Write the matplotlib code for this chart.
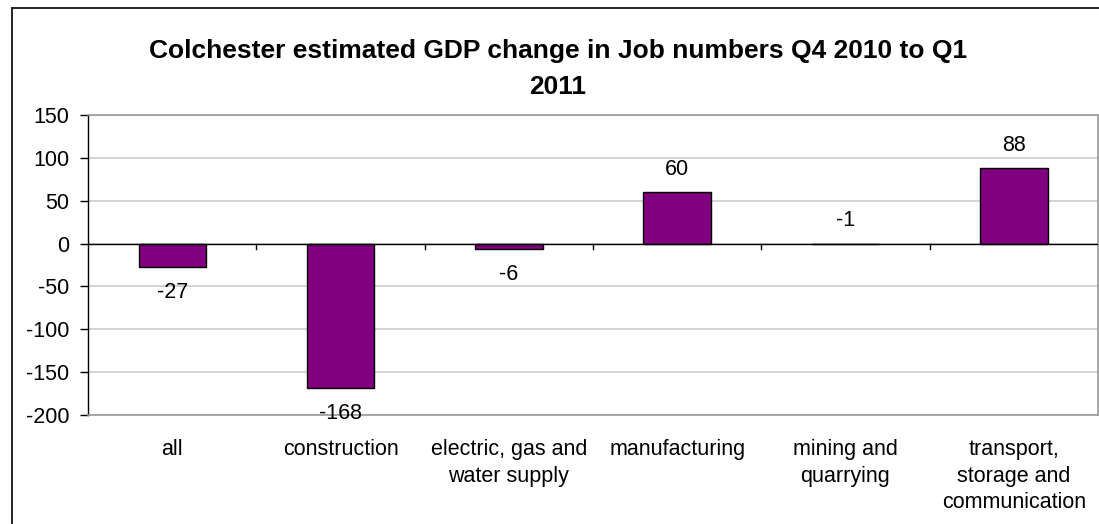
import matplotlib
matplotlib.use("Agg")
import matplotlib.pyplot as plt
from matplotlib.lines import Line2D

plt.rcParams['font.family'] = ['Liberation Sans', 'DejaVu Sans']

categories = ["all", "construction", "electric, gas and\nwater supply",
              "manufacturing", "mining and\nquarrying",
              "transport,\nstorage and\ncommunication"]
values = [-27, -168, -6, 60, -1, 88]
yticks = [-200, -150, -100, -50, 0, 50, 100, 150]
title = "Colchester estimated GDP change in Job numbers Q4 2010 to Q1\n2011"

W, H = 1099, 524
fig = plt.figure(figsize=(W / 100, H / 100), dpi=100)
fig.patch.set_facecolor("white")

# outer chart frame (runs off the right and bottom edges)
fig.add_artist(Line2D([12 / W, 12 / W], [-0.1, 1 - 8 / H], transform=fig.transFigure,
                      color="#222222", lw=1.4))
fig.add_artist(Line2D([12 / W, 1.1], [1 - 8 / H, 1 - 8 / H], transform=fig.transFigure,
                      color="#222222", lw=1.4))

left, right, top, bottom = 88 / W, 1098 / W, 1 - 115 / H, 1 - 415 / H
ax = fig.add_axes([left, bottom, right - left, top - bottom])

x = list(range(len(categories)))
ax.bar(x, values, width=0.4, color="#800080", edgecolor="black", linewidth=1.0, zorder=3)

ax.set_xlim(-0.5, len(categories) - 0.5)
ax.set_ylim(min(yticks), max(yticks))
ax.set_yticks(yticks)
ax.set_yticklabels([str(t) for t in yticks])
ax.yaxis.grid(True, color="#cccccc", linewidth=1.2, zorder=0)
ax.set_axisbelow(True)

# plot area border
for side in ("top", "right", "bottom"):
    ax.spines[side].set_color("#999999")
    ax.spines[side].set_linewidth(1.2)
ax.spines["left"].set_color("black")
ax.spines["left"].set_linewidth(1.0)

ax.tick_params(axis="y", length=6, width=1, color="black", labelsize=15.5, pad=7.5)
ax.tick_params(axis="x", length=0, labelsize=15.5, pad=0)

# category axis drawn at zero with boundary ticks
ax.axhline(0, color="black", linewidth=1.0, zorder=4)
for b in range(1, len(categories)):
    ax.plot([b - 0.5, b - 0.5], [0, -6], color="black", lw=1.0, zorder=4,
            clip_on=False)

# category labels below the plot area
ax.set_xticks(x)
ax.set_xticklabels([])
for xi, lab in zip(x, categories):
    ax.annotate(lab, xy=(xi, 0), xycoords=("data", "axes fraction"),
                xytext=(0, -17), textcoords="offset points",
                ha="center", va="top", fontsize=15.5, linespacing=1.37)

# data labels outside bar ends
for xi, v in zip(x, values):
    if v < -2:
        ax.annotate(str(v), xy=(xi, v), xytext=(0, -11), textcoords="offset points",
                    ha="center", va="top", fontsize=15.5, zorder=5)
    else:
        ax.annotate(str(v), xy=(xi, max(v, 0)), xytext=(0, 9), textcoords="offset points",
                    ha="center", va="bottom", fontsize=15.5, zorder=5)

fig.text(558 / W, 1 - 69 / H, title, ha="center", va="center", fontsize=19,
         fontweight="bold", linespacing=1.6)

fig.savefig("out.png", dpi=100)
